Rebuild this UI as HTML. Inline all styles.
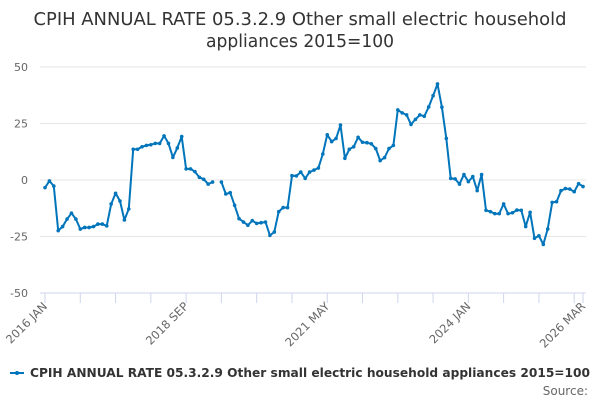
<!DOCTYPE html>
<html><head><meta charset="utf-8"><style>
body{margin:0;width:600px;height:400px;background:#fff;overflow:hidden;font-family:"Liberation Sans","DejaVu Sans",sans-serif}
</style></head><body>
<svg width="600" height="400" xmlns="http://www.w3.org/2000/svg">
<text x="300" y="25" text-anchor="middle" font-size="18" textLength="533" lengthAdjust="spacingAndGlyphs" fill="#333" font-family="DejaVu Sans, sans-serif">CPIH ANNUAL RATE 05.3.2.9 Other small electric household</text>
<text x="300" y="47" text-anchor="middle" font-size="18" textLength="188" lengthAdjust="spacingAndGlyphs" fill="#333" font-family="DejaVu Sans, sans-serif">appliances 2015=100</text>
<g id="grid"></g><g id="xaxis"></g><g id="series"></g>
<g>
<line x1="10" y1="373" x2="24" y2="373" stroke="#0075bb" stroke-width="2"/>
<circle cx="17" cy="373" r="2" fill="#0075bb"/>
<text x="30" y="377" font-size="12.5" font-weight="bold" textLength="560" lengthAdjust="spacingAndGlyphs" fill="#333" font-family="DejaVu Sans, sans-serif">CPIH ANNUAL RATE 05.3.2.9 Other small electric household appliances 2015=100</text>
</g>
<text x="588" y="395" text-anchor="end" font-size="12" fill="#666" font-family="DejaVu Sans, sans-serif">Source:</text>
</svg>
<script>
const yTicks=[50,25,0,-25,-50];
const xLabels=["2016 JAN","2018 SEP","2021 MAY","2024 JAN","2026 MAR"];
const xLabelIdx=[0,32,64,96,122];
const values=[-3.4,-0.4,-2.7,-22.4,-20.6,-17.3,-14.7,-17.3,-21.7,-21,-21,-20.6,-19.5,-19.5,-20.3,-10.6,-5.9,-9.3,-17.7,-12.8,
13.6,13.6,14.7,15.3,15.6,16.2,16.2,19.5,16.2,10,14.2,19.2,4.9,4.9,3.7,1.2,0.3,-1.8,-0.9,null,
-0.9,-6.2,-5.6,-11.2,-17.1,-18.6,-20,-18,-19.2,-18.9,-18.6,-24.5,-23,-14,-12.2,-12.2,1.9,1.8,3.5,0.7,
3.5,4.4,5.3,11.5,20,17,18.4,24.3,9.6,13.6,14.7,18.9,16.7,16.5,16,13.9,8.6,9.9,13.9,15.3,
31,29.7,28.8,24.6,26.8,28.8,28.2,32.3,37.3,42.5,32.2,18.4,0.7,0.5,-1.8,2.4,-0.7,1.5,-4.7,2.4,
-13.4,-14,-14.9,-14.9,-10.6,-14.9,-14.5,-13.3,-13.4,-20.6,-14.3,-25.8,-24.7,-28.5,-21.7,-9.9,-9.6,-4.7,-3.8,-4,
-5.2,-1.6,-2.9];
const NS="http://www.w3.org/2000/svg";
const X0=45,DX=4.41,Y0=180,YS=56.5/25;
const xs=i=>X0+i*DX, ys=v=>Y0-v*YS;
const grid=document.getElementById('grid'),xa=document.getElementById('xaxis'),ser=document.getElementById('series');
function mk(t,a,p){const e=document.createElementNS(NS,t);for(const k in a)e.setAttribute(k,a[k]);p.appendChild(e);return e;}
yTicks.forEach(v=>{
 const l=mk('line',{x1:40,x2:586,y1:ys(v),y2:ys(v),stroke:v===-50?'#ccd6eb':'#e6e6e6','stroke-width':1},grid);
 
 
 const t=mk('text',{x:28,y:ys(v)+4,'text-anchor':'end','font-size':11,fill:'#666','font-family':'DejaVu Sans, sans-serif'},grid);
 t.textContent=v;
 
 
});
for(let i=0;i<=122;i+=8){
 const l=mk('line',{x1:xs(i),x2:xs(i),y1:ys(-50),y2:ys(-50)+10,stroke:'#ccd6eb'},xa);
 
 
}
{const l=mk('line',{x1:xs(122),x2:xs(122),y1:ys(-50),y2:ys(-50)+10,stroke:'#ccd6eb'},xa);
 
 }
xLabels.forEach((s,k)=>{
 const x=xs(xLabelIdx[k])+3,y=ys(-50)+14;
 const t=mk('text',{x:x,y:y,'text-anchor':'end','font-size':11.5,fill:'#666','font-family':'DejaVu Sans, sans-serif',transform:`rotate(-45 ${x} ${y})`},xa);
 t.textContent=s;
 
 
});
let d='',pen=false;
values.forEach((v,i)=>{if(v===null){pen=false;return;}d+=(pen?'L':'M')+xs(i).toFixed(1)+' '+ys(v).toFixed(1);pen=true;});
const p=mk('path',{d:d,fill:'none',stroke:'#0075bb','stroke-width':2,'stroke-linejoin':'round'},ser);


values.forEach((v,i)=>{if(v===null)return;
 const c=mk('circle',{cx:xs(i),cy:ys(v),r:1.8,fill:'#0075bb'},ser);
 
 
});
</script>
</body></html>
